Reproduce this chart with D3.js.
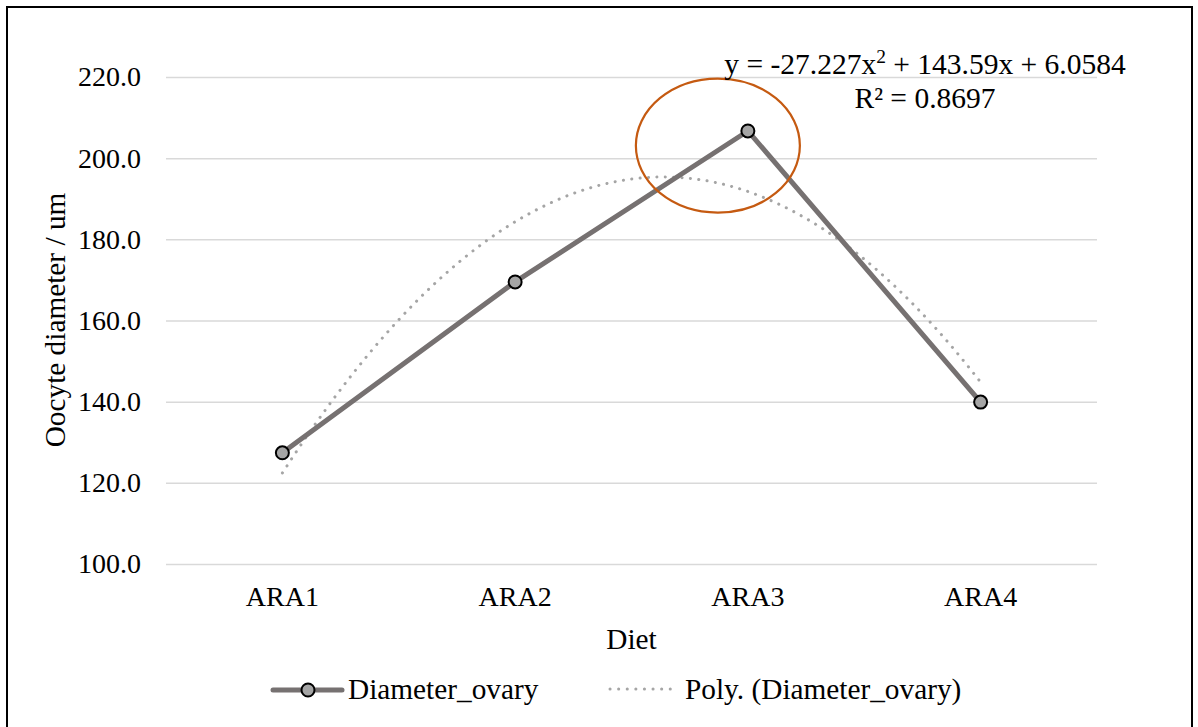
<!DOCTYPE html>
<html>
<head>
<meta charset="utf-8">
<script src="https://cdn.jsdelivr.net/npm/d3@7"></script>
<style>
  html, body { margin: 0; padding: 0; background: #fff; }
  svg { display: block; }
</style>
</head>
<body>
<svg id="chart" width="1198" height="727"></svg>
<script>
// Oocyte diameter by diet, with a 2nd-order polynomial trendline
const categories = ["ARA1", "ARA2", "ARA3", "ARA4"];
const diameterOvary = [127.4, 169.5, 206.7, 139.9];
const yTicks = [100, 120, 140, 160, 180, 200, 220];
// trendline y = a x^2 + b x + c, x = 1..4
const polyCoef = { a: -27.227, b: 143.59, c: 6.0584 };
const rSquared = 0.8697;
const seriesName = "Diameter_ovary";
const trendName = "Poly. (Diameter_ovary)";

const plot = { left: 166, right: 1097, top: 77, bottom: 564 };
const SERIF = "\"Liberation Serif\"";
const F_TICK = 28, F_LABEL = 29.3, F_EQ = 29.5;
const DOTS = "0.1 8.3";

const svg = d3.select("#chart");
const serifText = sel => sel.style("font-family", SERIF).style("fill", "#000");

// outer frame
svg.append("rect")
  .attr("x", 7).attr("y", 7)
  .attr("width", 1185).attr("height", 740)
  .attr("fill", "none").attr("stroke", "#000").attr("stroke-width", 2);

const x = d3.scaleBand().domain(categories).range([plot.left, plot.right]);
const cx = d => x(d) + x.bandwidth() / 2;
const y = d3.scaleLinear().domain([100, 220]).range([plot.bottom, plot.top]);
// continuous position for the trendline (x = 1 at first category)
const xPos = d3.scaleLinear().domain([1, categories.length])
  .range([cx(categories[0]), cx(categories[categories.length - 1])]);

// gridlines + y tick labels
const yAxis = d3.axisLeft(y).tickValues(yTicks)
  .tickSize(-(plot.right - plot.left)).tickPadding(25)
  .tickFormat(d3.format(".1f"));
const gy = svg.append("g").attr("transform", `translate(${plot.left},0)`).call(yAxis);
gy.attr("font-family", null).attr("font-size", null);
gy.select(".domain").remove();
gy.selectAll(".tick line").attr("stroke", "#d9d9d9").attr("stroke-width", 1.5);
gy.selectAll(".tick text").call(serifText).style("font-size", F_TICK + "px");

// category labels
const xAxis = d3.axisBottom(x).tickSize(0).tickPadding(22);
const gx = svg.append("g").attr("transform", `translate(0,${plot.bottom})`).call(xAxis);
gx.attr("font-family", null).attr("font-size", null);
gx.select(".domain").remove();
gx.selectAll(".tick text").call(serifText).style("font-size", F_TICK + "px");

// axis titles
svg.append("text")
  .attr("transform", "translate(65,320) rotate(-90)")
  .attr("text-anchor", "middle")
  .call(serifText).style("font-size", F_LABEL + "px")
  .text("Oocyte diameter / um");
svg.append("text")
  .attr("x", (plot.left + plot.right) / 2).attr("y", 649)
  .attr("text-anchor", "middle")
  .call(serifText).style("font-size", F_LABEL + "px")
  .text("Diet");

// trendline
const poly = t => polyCoef.a * t * t + polyCoef.b * t + polyCoef.c;
const tVals = d3.range(1, categories.length + 0.0001, 0.02);
svg.append("path")
  .datum(tVals)
  .attr("fill", "none")
  .attr("stroke", "#a5a5a5")
  .attr("stroke-width", 3)
  .attr("stroke-linecap", "round")
  .attr("stroke-dasharray", DOTS)
  .attr("d", d3.line().x(t => xPos(t)).y(t => y(poly(t))));

// data series
const pts = categories.map((c, i) => ({ c, v: diameterOvary[i] }));
svg.append("path")
  .datum(pts)
  .attr("fill", "none")
  .attr("stroke", "#767171")
  .attr("stroke-width", 5)
  .attr("stroke-linejoin", "round")
  .attr("d", d3.line().x(d => cx(d.c)).y(d => y(d.v)));
svg.selectAll("circle.pt").data(pts).join("circle")
  .attr("class", "pt")
  .attr("cx", d => cx(d.c)).attr("cy", d => y(d.v))
  .attr("r", 6.5)
  .attr("fill", "#a5a5a5").attr("stroke", "#000").attr("stroke-width", 2);

// highlight ellipse around the peak
svg.append("ellipse")
  .attr("cx", cx("ARA3") - 30).attr("cy", y(203.1))
  .attr("rx", 82).attr("ry", 67)
  .attr("fill", "none").attr("stroke", "#c55a11").attr("stroke-width", 2.2);

// trendline equation
const eq = svg.append("text")
  .attr("x", 925).attr("y", 74)
  .attr("text-anchor", "middle")
  .call(serifText).style("font-size", F_EQ + "px");
eq.append("tspan").text(`y = ${polyCoef.a}x`);
eq.append("tspan").attr("dy", -11).style("font-size", (F_EQ * 0.66) + "px").text("2");
eq.append("tspan").attr("dy", 11).text(` + ${polyCoef.b}x + ${polyCoef.c}`);
svg.append("text")
  .attr("x", 925).attr("y", 108)
  .attr("text-anchor", "middle")
  .call(serifText).style("font-size", F_EQ + "px")
  .text(`R² = ${rSquared}`);

// legend
const ly = 690;
const lg = svg.append("g");
lg.append("line").attr("x1", 273).attr("x2", 342).attr("y1", ly).attr("y2", ly)
  .attr("stroke", "#767171").attr("stroke-width", 5).attr("stroke-linecap", "round");
lg.append("circle").attr("cx", 308).attr("cy", ly).attr("r", 6.5)
  .attr("fill", "#a5a5a5").attr("stroke", "#000").attr("stroke-width", 2);
lg.append("text").attr("x", 348).attr("y", ly + 9)
  .call(serifText).style("font-size", F_LABEL + "px").text(seriesName);
lg.append("line").attr("x1", 610).attr("x2", 678).attr("y1", ly - 1).attr("y2", ly - 1)
  .attr("stroke", "#a5a5a5").attr("stroke-width", 3)
  .attr("stroke-linecap", "round").attr("stroke-dasharray", "0.1 8.5");
lg.append("text").attr("x", 685).attr("y", ly + 9)
  .call(serifText).style("font-size", F_LABEL + "px").text(trendName);
</script>
</body>
</html>
